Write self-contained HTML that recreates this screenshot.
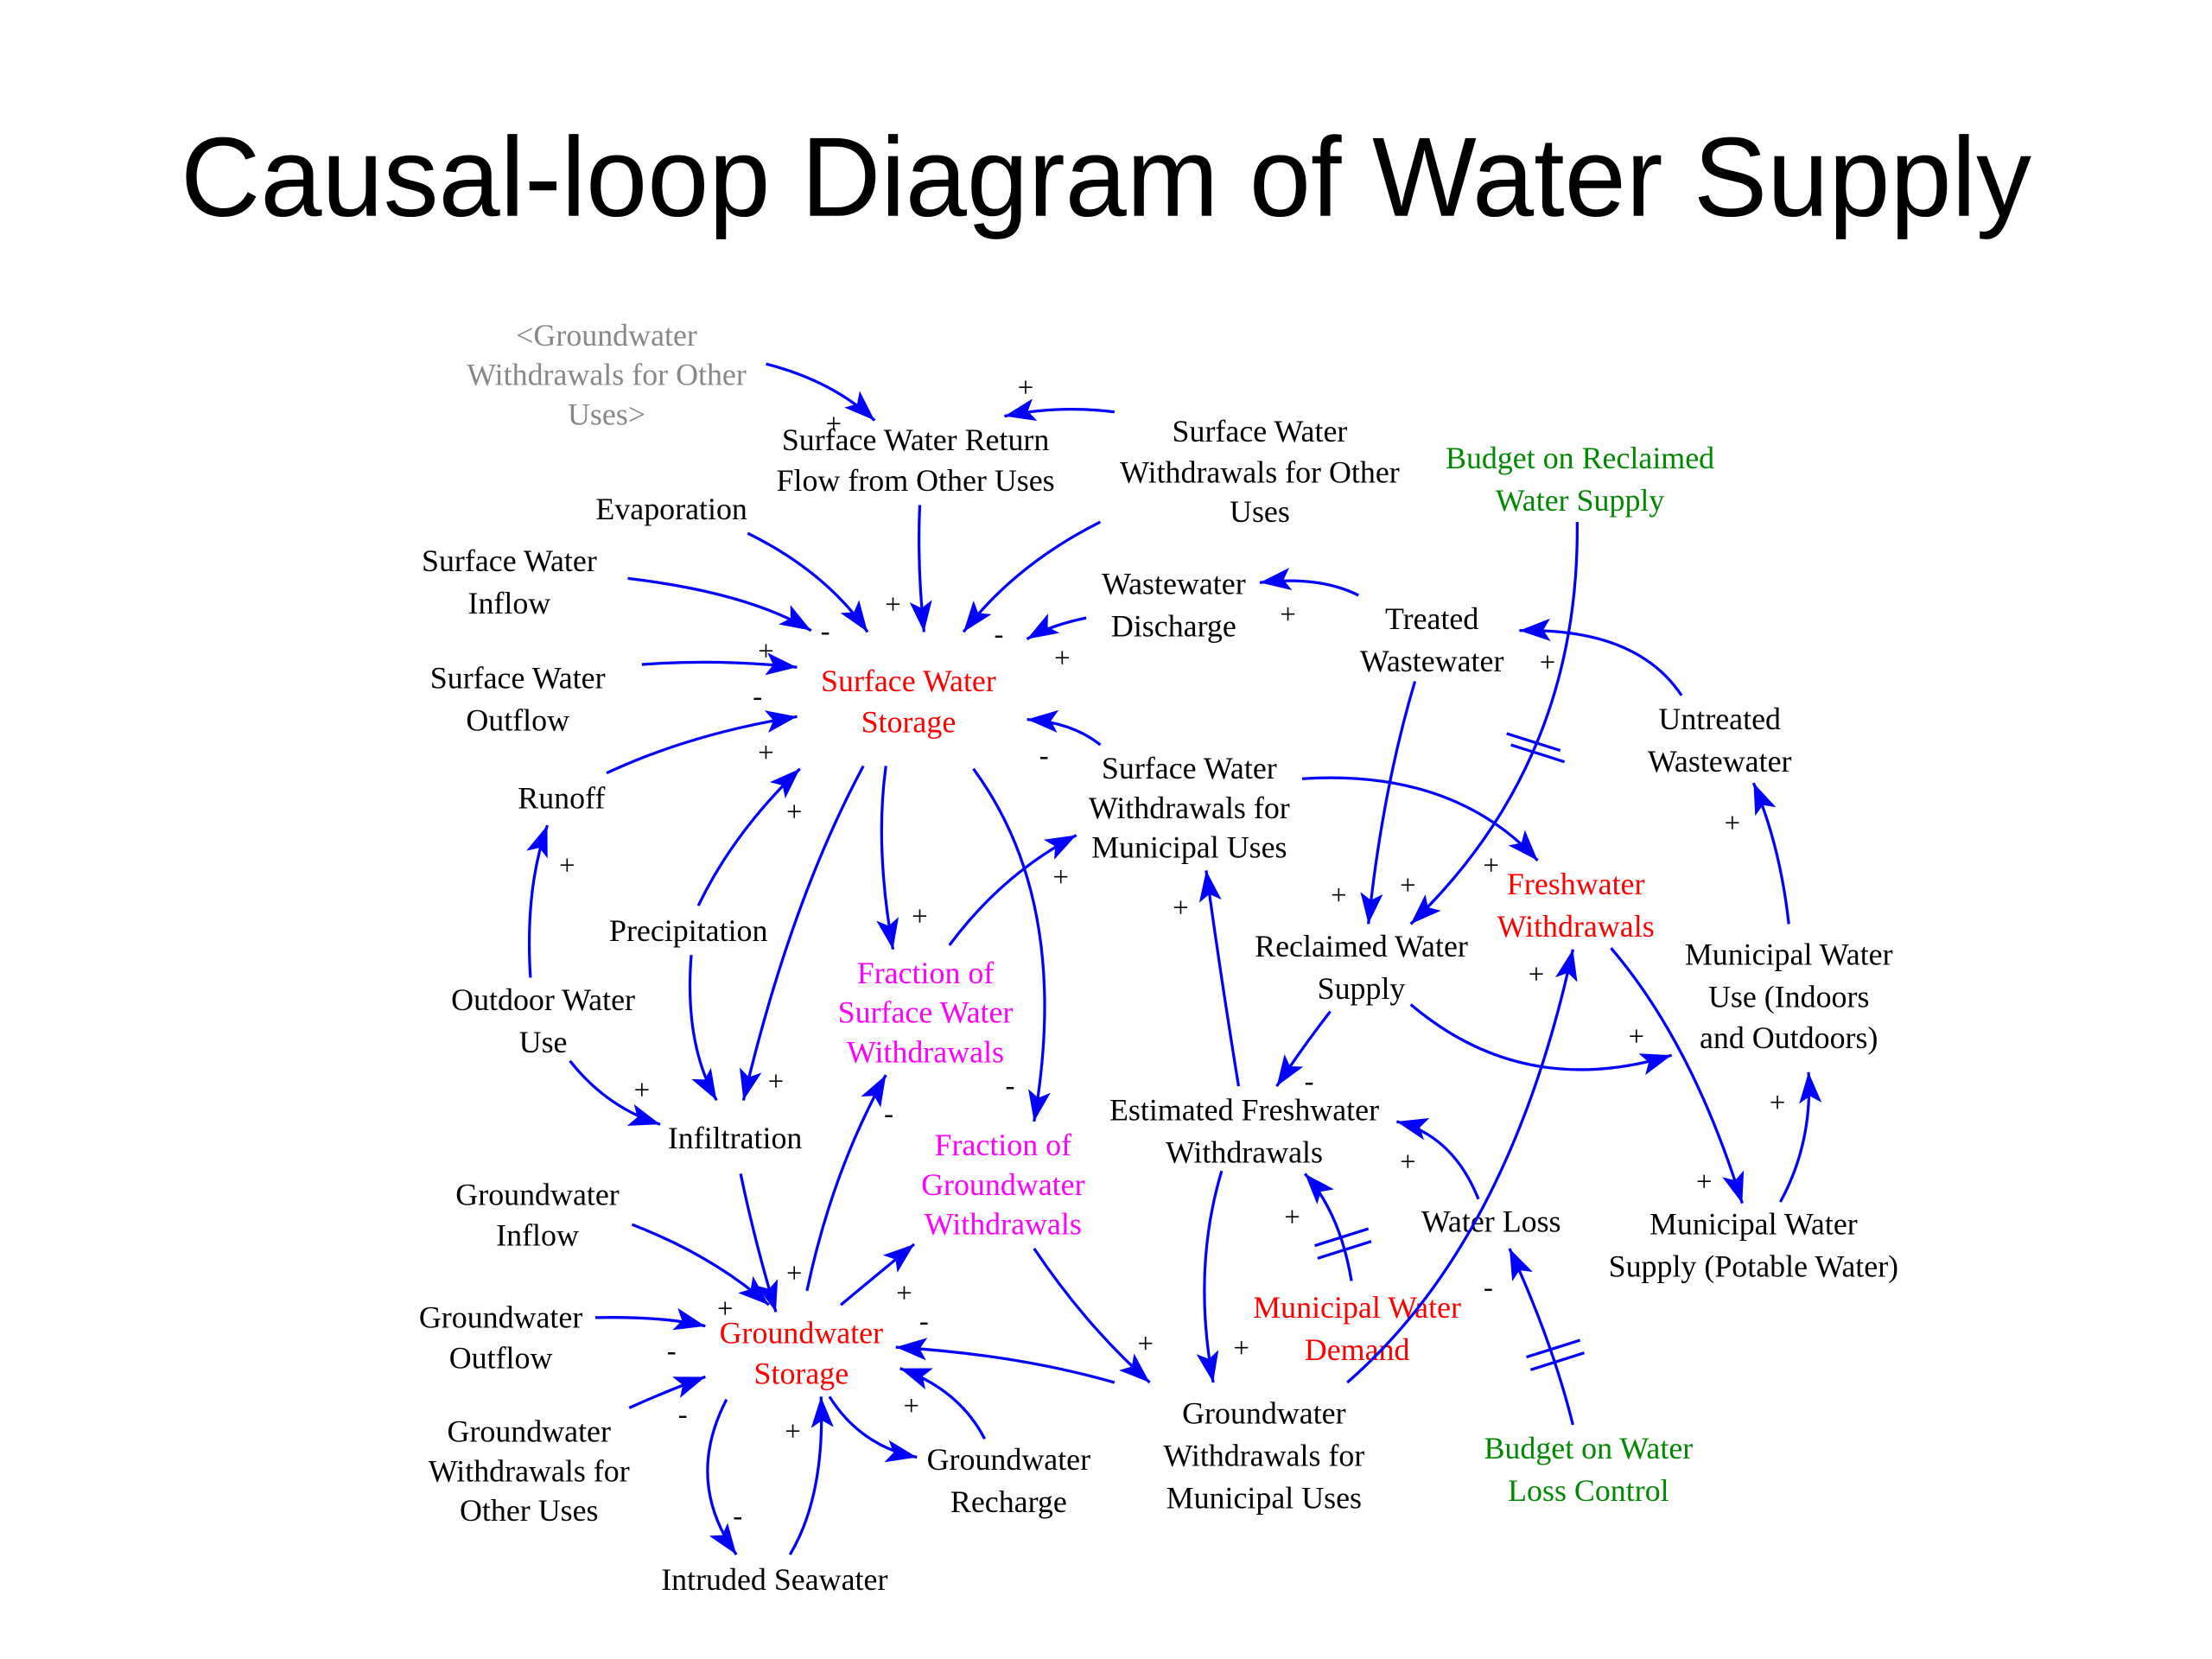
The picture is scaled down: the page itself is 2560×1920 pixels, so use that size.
<!DOCTYPE html>
<html><head><meta charset="utf-8"><style>
html,body{margin:0;padding:0;background:#fff;}
svg{display:block;}
.n{font-family:"Liberation Serif",serif;font-size:22px;fill:#000;text-anchor:middle;}
.r{fill:#f00}.m{fill:#f0f}.g{fill:#080}.gy{fill:#888}
.s{font-family:"Liberation Serif",serif;font-size:20px;fill:#000;text-anchor:middle;}
path.a{fill:none;stroke:#00f;stroke-width:2;marker-end:url(#ah);}
line.h{stroke:#00f;stroke-width:2;}
</style></head><body>
<svg width="2560" height="1920" viewBox="0 0 1568 1176" xmlns="http://www.w3.org/2000/svg">
<defs><marker id="ah" markerUnits="userSpaceOnUse" markerWidth="24" markerHeight="16" refX="22" refY="8" orient="auto"><path d="M0,0 L22,8 L0,16 L5,8 Z" fill="#00f"/></marker></defs>
<text x="784" y="153" font-family="Liberation Sans, sans-serif" font-size="80" text-anchor="middle" textLength="1312" lengthAdjust="spacingAndGlyphs">Causal-loop Diagram of Water Supply</text>

<text class="n gy" x="430" y="245">&lt;Groundwater</text><text class="n gy" x="430" y="273">Withdrawals for Other</text><text class="n gy" x="430" y="301">Uses&gt;</text>
<text class="n" x="649" y="319">Surface Water Return</text><text class="n" x="649" y="348">Flow from Other Uses</text>
<text class="n" x="893" y="313">Surface Water</text><text class="n" x="893" y="342">Withdrawals for Other</text><text class="n" x="893" y="370">Uses</text>
<text class="n g" x="1120" y="332">Budget on Reclaimed</text><text class="n g" x="1120" y="362">Water Supply</text>
<text class="n" x="476" y="368">Evaporation</text>
<text class="n" x="361" y="405">Surface Water</text><text class="n" x="361" y="435">Inflow</text>
<text class="n" x="832" y="421">Wastewater</text><text class="n" x="832" y="451">Discharge</text>
<text class="n" x="1015" y="446">Treated</text><text class="n" x="1015" y="476">Wastewater</text>
<text class="n" x="367" y="488">Surface Water</text><text class="n" x="367" y="518">Outflow</text>
<text class="n r" x="644" y="490">Surface Water</text><text class="n r" x="644" y="519">Storage</text>
<text class="n" x="1219" y="517">Untreated</text><text class="n" x="1219" y="547">Wastewater</text>
<text class="n" x="843" y="552">Surface Water</text><text class="n" x="843" y="580">Withdrawals for</text><text class="n" x="843" y="608">Municipal Uses</text>
<text class="n" x="398" y="573">Runoff</text>
<text class="n r" x="1117" y="634">Freshwater</text><text class="n r" x="1117" y="664">Withdrawals</text>
<text class="n" x="488" y="667">Precipitation</text>
<text class="n" x="965" y="678">Reclaimed Water</text><text class="n" x="965" y="708">Supply</text>
<text class="n" x="1268" y="684">Municipal Water</text><text class="n" x="1268" y="714">Use (Indoors</text><text class="n" x="1268" y="743">and Outdoors)</text>
<text class="n m" x="656" y="697">Fraction of</text><text class="n m" x="656" y="725">Surface Water</text><text class="n m" x="656" y="753">Withdrawals</text>
<text class="n" x="385" y="716">Outdoor Water</text><text class="n" x="385" y="746">Use</text>
<text class="n" x="882" y="794">Estimated Freshwater</text><text class="n" x="882" y="824">Withdrawals</text>
<text class="n" x="521" y="814">Infiltration</text>
<text class="n m" x="711" y="819">Fraction of</text><text class="n m" x="711" y="847">Groundwater</text><text class="n m" x="711" y="875">Withdrawals</text>
<text class="n" x="381" y="854">Groundwater</text><text class="n" x="381" y="883">Inflow</text>
<text class="n" x="1057" y="873">Water Loss</text>
<text class="n" x="1243" y="875">Municipal Water</text><text class="n" x="1243" y="905">Supply (Potable Water)</text>
<text class="n" x="355" y="941">Groundwater</text><text class="n" x="355" y="970">Outflow</text>
<text class="n r" x="568" y="952">Groundwater</text><text class="n r" x="568" y="981">Storage</text>
<text class="n r" x="962" y="934">Municipal Water</text><text class="n r" x="962" y="964">Demand</text>
<text class="n" x="375" y="1022">Groundwater</text><text class="n" x="375" y="1050">Withdrawals for</text><text class="n" x="375" y="1078">Other Uses</text>
<text class="n" x="715" y="1042">Groundwater</text><text class="n" x="715" y="1072">Recharge</text>
<text class="n" x="896" y="1009">Groundwater</text><text class="n" x="896" y="1039">Withdrawals for</text><text class="n" x="896" y="1069">Municipal Uses</text>
<text class="n g" x="1126" y="1034">Budget on Water</text><text class="n g" x="1126" y="1064">Loss Control</text>
<text class="n" x="549" y="1127">Intruded Seawater</text>

<path class="a" d="M543,258 Q590,270 620,298"/>
<path class="a" d="M790,292 Q750,287 712,295"/>
<path class="a" d="M530,378 Q585,405 615,448"/>
<path class="a" d="M445,410 Q530,420 575,447"/>
<path class="a" d="M652,358 Q650,400 655,448"/>
<path class="a" d="M780,370 Q720,400 683,448"/>
<path class="a" d="M770,438 Q745,443 728,453"/>
<path class="a" d="M455,471 Q510,467 565,473"/>
<path class="a" d="M430,548 Q490,520 565,508"/>
<path class="a" d="M495,642 Q520,590 567,545"/>
<path class="a" d="M780,528 Q760,512 728,510"/>
<path class="a" d="M963,422 Q935,408 893,413"/>
<path class="a" d="M1118,370 Q1120,540 1000,655"/>
<line class="h" x1="1068" y1="520" x2="1106" y2="532"/><line class="h" x1="1071" y1="528" x2="1109" y2="540"/>
<path class="a" d="M1192,493 Q1160,445 1077,447"/>
<path class="a" d="M1003,483 Q980,560 970,655"/>
<path class="a" d="M923,552 Q1030,545 1090,610"/>
<path class="a" d="M628,543 Q620,600 633,673"/>
<path class="a" d="M612,543 Q560,640 527,780"/>
<path class="a" d="M690,545 Q760,640 733,795"/>
<path class="a" d="M673,670 Q710,620 763,592"/>
<path class="a" d="M376,693 Q372,630 388,585"/>
<path class="a" d="M490,677 Q485,740 508,780"/>
<path class="a" d="M404,752 Q430,785 468,797"/>
<path class="a" d="M878,770 Q865,690 855,617"/>
<path class="a" d="M943,717 Q925,740 905,770"/>
<path class="a" d="M1000,712 Q1080,780 1185,748"/>
<path class="a" d="M1142,672 Q1200,740 1235,853"/>
<path class="a" d="M1262,852 Q1285,810 1282,760"/>
<path class="a" d="M1268,655 Q1262,600 1243,555"/>
<path class="a" d="M955,980 Q1070,880 1115,673"/>
<path class="a" d="M1048,850 Q1030,805 990,795"/>
<path class="a" d="M958,908 Q950,860 925,832"/>
<line class="h" x1="932" y1="883" x2="970" y2="871"/><line class="h" x1="934" y1="892" x2="972" y2="880"/>
<path class="a" d="M1115,1010 Q1100,950 1070,885"/>
<line class="h" x1="1082" y1="962" x2="1120" y2="950"/><line class="h" x1="1085" y1="971" x2="1123" y2="959"/>
<path class="a" d="M866,830 Q845,900 860,980"/>
<path class="a" d="M733,885 Q770,940 815,980"/>
<path class="a" d="M790,980 Q720,960 635,955"/>
<path class="a" d="M596,925 Q620,905 648,882"/>
<path class="a" d="M572,915 Q590,830 628,762"/>
<path class="a" d="M525,832 Q535,880 550,930"/>
<path class="a" d="M448,868 Q505,890 545,925"/>
<path class="a" d="M422,934 Q470,933 500,940"/>
<path class="a" d="M446,998 Q475,985 500,976"/>
<path class="a" d="M698,1020 Q680,985 638,970"/>
<path class="a" d="M588,990 Q610,1025 650,1033"/>
<path class="a" d="M515,992 Q485,1050 522,1102"/>
<path class="a" d="M560,1102 Q585,1060 582,990"/>

<g class="s">
<text x="591" y="307">+</text><text x="727" y="281">+</text>
<text x="585" y="454">-</text><text x="633" y="435">+</text><text x="708" y="456">-</text><text x="753" y="473">+</text>
<text x="543" y="468">+</text><text x="537" y="500">-</text><text x="543" y="540">+</text><text x="563" y="582">+</text><text x="740" y="542">-</text>
<text x="913" y="442">+</text><text x="1097" y="476">+</text><text x="949" y="641">+</text><text x="998" y="634">+</text><text x="1057" y="620">+</text>
<text x="652" y="656">+</text><text x="550" y="773">+</text><text x="716" y="776">-</text><text x="752" y="628">+</text>
<text x="402" y="620">+</text><text x="455" y="779">+</text><text x="837" y="650">+</text><text x="928" y="773">-</text>
<text x="1160" y="741">+</text><text x="1208" y="844">+</text><text x="1260" y="788">+</text><text x="1228" y="590">+</text>
<text x="1089" y="697">+</text><text x="998" y="830">+</text><text x="916" y="869">+</text><text x="1055" y="919">-</text>
<text x="880" y="962">+</text><text x="812" y="959">+</text><text x="655" y="943">-</text><text x="641" y="923">+</text>
<text x="630" y="796">-</text><text x="563" y="909">+</text><text x="514" y="934">+</text><text x="476" y="964">-</text>
<text x="484" y="1009">-</text><text x="646" y="1003">+</text><text x="562" y="1021">+</text><text x="523" y="1081">-</text>
</g>
</svg>
</body></html>
